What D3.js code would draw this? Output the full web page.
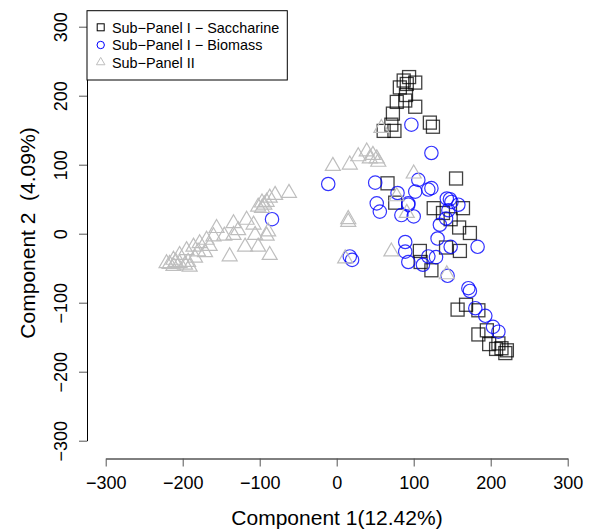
<!DOCTYPE html>
<html>
<head>
<meta charset="utf-8">
<script src="https://cdn.jsdelivr.net/npm/d3@7"></script>
<style>
  body { margin: 0; background: #fff; }
  svg { display: block; font-family: "Liberation Sans", Arial, sans-serif; }
  .keep { white-space: pre; }
</style>
</head>
<body>
<div id="chart"></div>
<script>
// PCA scores: [component 1, component 2]
const saccharine = [
  [94, 227], [102, 219], [87, 222], [82, 212], [91, 217], [90, 201], [78, 191], [89, 193],
  [102, 184], [73, 174], [71, 158], [61, 149], [75, 149], [121, 161], [125, 155], [66, 73],
  [155, 80], [76, 45], [126, 37], [138, 30], [164, 37], [148, 21], [159, 9], [173, 1],
  [142, -20], [160, -25], [108, -25], [109, -41], [123, -53], [157, -110], [168, -103], [184, -111],
  [184, -146], [195, -140], [198, -160], [210, -159], [214, -166], [219, -173], [221, -169], [207, -167]
];
const biomass = [
  [97, 158], [123, 117], [-11, 72], [50, 74], [106, 78], [79, 59], [102, 61], [123, 66],
  [119, 64], [52, 44], [93, 44], [147, 50], [158, 42], [56, 32], [84, 27], [93, 42],
  [100, 25], [143, 51], [149, 46], [145, 34], [134, 13], [131, -7], [148, -19], [183, -19],
  [89, -12], [89, -26], [93, -41], [119, -33], [129, -34], [112, -45], [144, -61], [17, -33],
  [20, -38], [171, -79], [173, -83], [180, -108], [193, -119], [203, -135], [210, -142], [-84, 21],
  [142, 22]
];
const panel2 = [
  [-5, 98], [17, 100], [28, 112], [39, 119], [43, 109], [52, 109], [54, 104], [47, 114],
  [100, 87], [58, 153], [78, 54], [91, 30], [15, 21], [15, 17], [71, -26], [143, -59],
  [11, -36], [-62, 59], [-80, 56], [-91, 46], [-87, 52], [-97, 45], [-102, 39], [-117, 20],
  [-134, 15], [-108, 13], [-156, 8], [-134, -2], [-89, 3], [-91, -3], [-106, -2], [-160, -4],
  [-169, -9], [-119, -19], [-102, -19], [-139, -33], [-87, -31], [-178, -14], [-186, -19], [-195, -24],
  [-204, -31], [-212, -38], [-221, -43], [-197, -45], [-191, -48], [-180, -26], [-209, -41], [-217, -44],
  [-204, -43], [-212, -47], [-146, -3], [-128, 5], [-97, 37], [-94, 42], [-171, -27], [-165, -18],
  [-184, -35], [-193, -41]
];
const ticks = [-300, -200, -100, 0, 100, 200, 300];
const legendLabels = ["Sub\u2212Panel I \u2212 Saccharine", "Sub\u2212Panel I \u2212 Biomass", "Sub\u2212Panel II"];
const xTitle = "Component 1(12.42%)";
const yTitle = "Component 2  (4.09%)";

const W = 596, H = 530;
const svg = d3.select("#chart").append("svg").attr("width", W).attr("height", H);

const x = d3.scaleLinear().domain([-300, 300]).range([105.7, 567.7]);
const y = d3.scaleLinear().domain([-300, 300]).range([440.7, 26.7]);

// axes, R style: line spans the ticks only
const fmt = d => d < 0 ? "\u2212" + Math.abs(d) : d;
const xAxis = svg.append("g").attr("transform", "translate(0,458.5)")
  .call(d3.axisBottom(x).tickValues(ticks).tickSize(8).tickSizeOuter(0).tickFormat(fmt));
xAxis.selectAll("text").attr("y", 30).attr("dy", null).attr("font-size", 18).attr("fill", "#000");

const yAxis = svg.append("g").attr("transform", "translate(87,0)")
  .call(d3.axisLeft(y).tickValues(ticks).tickSize(8).tickSizeOuter(0).tickFormat(fmt));
yAxis.selectAll("text")
  .attr("x", null).attr("dy", null)
  .attr("text-anchor", "middle")
  .attr("transform", "translate(-20.5,0) rotate(-90)")
  .attr("font-size", 18).attr("fill", "#000");

svg.selectAll(".domain").attr("stroke", "#000");
svg.selectAll(".tick line").attr("stroke", "#555");

svg.append("text").attr("x", 337).attr("y", 525).attr("text-anchor", "middle")
  .attr("font-size", 21).text(xTitle);
svg.append("text").attr("class", "keep").attr("transform", "translate(35,233) rotate(-90)")
  .attr("text-anchor", "middle").attr("font-size", 21).text(yTitle);

// symbols
const sq = 13;
const tri = s => { const r = s * 0.577, h = s / 2; return `M0,${-r}L${h},${r / 2}L${-h},${r / 2}Z`; };

svg.append("g").selectAll("rect").data(saccharine).enter().append("rect")
  .attr("x", d => x(d[0]) - sq / 2).attr("y", d => y(d[1]) - sq / 2)
  .attr("width", sq).attr("height", sq)
  .attr("fill", "none").attr("stroke", "#000").attr("stroke-opacity", 0.75).attr("stroke-width", 1.3);

svg.append("g").selectAll("circle").data(biomass).enter().append("circle")
  .attr("cx", d => x(d[0])).attr("cy", d => y(d[1])).attr("r", 6.7)
  .attr("fill", "none").attr("stroke", "#0000ff").attr("stroke-opacity", 0.8).attr("stroke-width", 1.2);

svg.append("g").selectAll("path").data(panel2).enter().append("path")
  .attr("transform", d => `translate(${x(d[0])},${y(d[1])})`)
  .attr("d", tri(15))
  .attr("fill", "none").attr("stroke", "#bebebe").attr("stroke-width", 1.2);

// legend
const lg = svg.append("g");
lg.append("rect").attr("x", 87).attr("y", 10.7).attr("width", 200.3).attr("height", 69.3)
  .attr("fill", "#fff").attr("stroke", "#000");
const rows = [27.3, 45, 62.3];
lg.append("rect").attr("x", 100.7 - 3.5).attr("y", rows[0] - 3.5).attr("width", 7).attr("height", 7)
  .attr("fill", "none").attr("stroke", "#000");
lg.append("circle").attr("cx", 100.7).attr("cy", rows[1]).attr("r", 3.7)
  .attr("fill", "none").attr("stroke", "#0000ff");
lg.append("path").attr("transform", `translate(100.7,${rows[2]})`).attr("d", tri(8.5))
  .attr("fill", "none").attr("stroke", "#bebebe");
lg.selectAll("text.lab").data(legendLabels).enter().append("text")
  .attr("x", 112).attr("y", (d, i) => rows[i] + 5.2)
  .attr("font-size", 14.4).text(d => d);
</script>
</body>
</html>
